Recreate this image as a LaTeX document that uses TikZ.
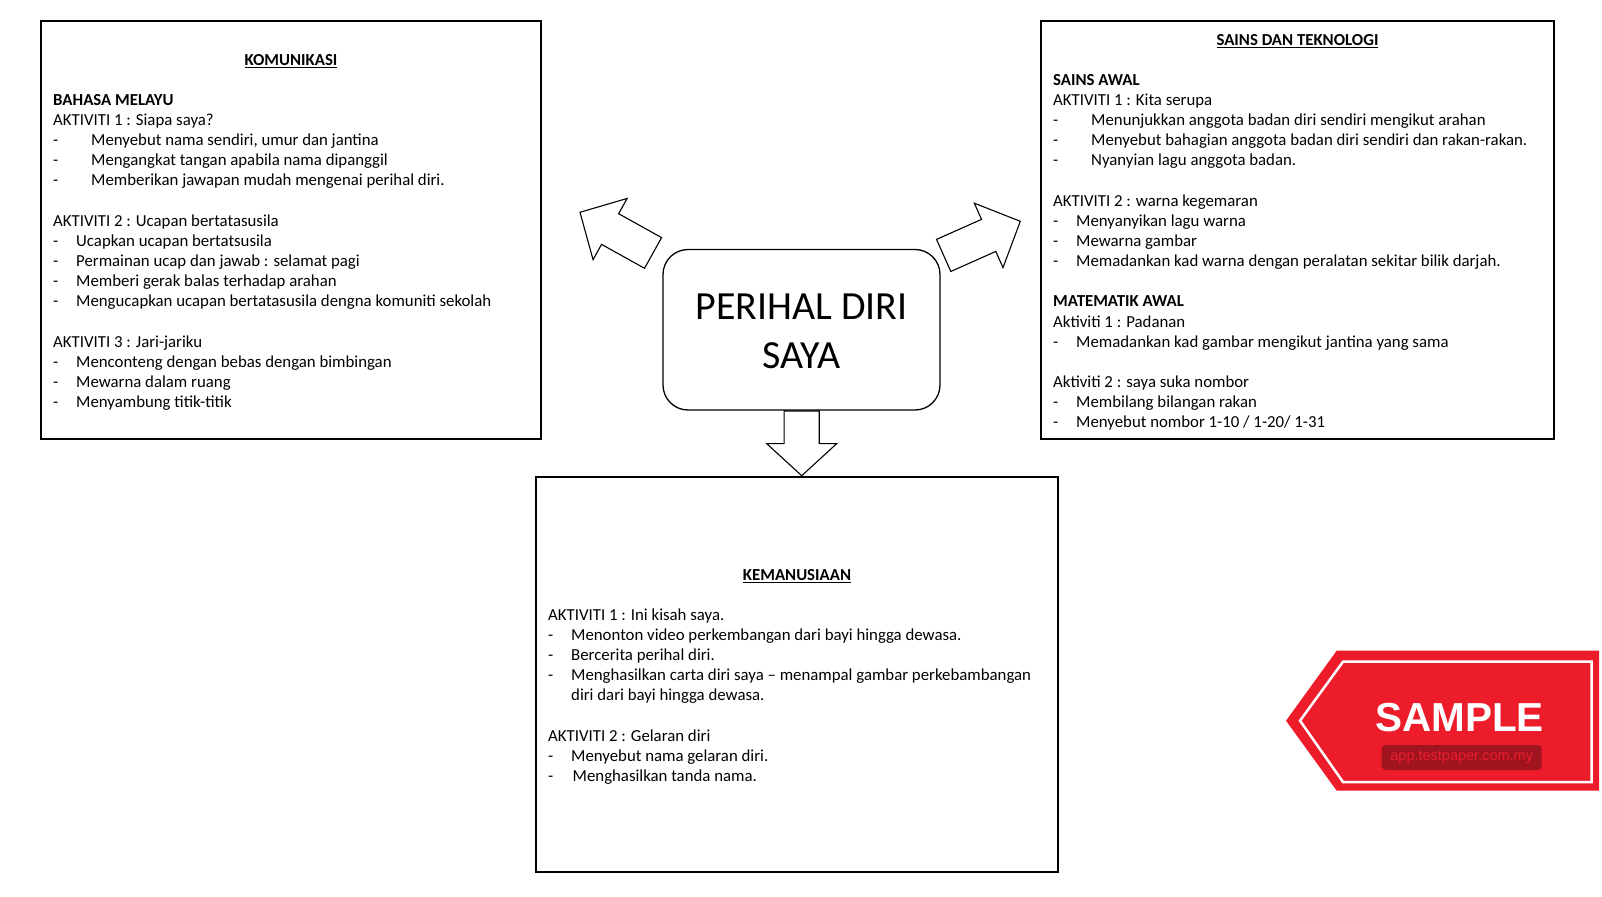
\documentclass[tikz,border=0pt]{standalone}
\usepackage{fontspec}
\setmainfont{Carlito}
\newfontfamily\stampfont{Liberation Sans}
\usetikzlibrary{positioning,shapes.arrows}
\definecolor{stampred}{HTML}{EC1C2B}
\definecolor{stampdark}{HTML}{A01420}
\newcommand{\itm}[1]{\makebox[23pt][l]{-}#1}
\newcommand{\itmw}[1]{\makebox[38pt][l]{-}#1}
\tikzset{
  panel/.style={draw, line width=2pt, rectangle, inner sep=0pt, outer sep=0pt},
  paneltitle/.style={inner sep=0pt, font=\fontsize{16.8}{20.15}\selectfont\bfseries},
  paneltext/.style={inner sep=0pt, anchor=north west, align=left, font=\fontsize{16.8}{20.15}\selectfont},
  blockarrow/.style={draw, line width=1.1pt, single arrow, inner sep=17pt, outer sep=0pt, fill=white, anchor=tip}
}
\begin{document}
\begin{tikzpicture}[x=1pt,y=-1pt]
  \useasboundingbox (0,0) rectangle (1602,896);

  \node[panel, minimum width=500pt, minimum height=417.5pt] (komunikasi) at (291,230.25) {};
  \node[panel, minimum width=513pt, minimum height=417.5pt] (sains) at (1297.5,230.25) {};
  \node[panel, minimum width=522pt, minimum height=395pt] (kemanusiaan) at (797,674) {};

  \node[paneltitle, below=33pt of komunikasi.north] (t1) {\underline{KOMUNIKASI}};
  \node[paneltext] (b1) at (53,94) {\textbf{BAHASA MELAYU}\\
    AKTIVITI 1 : Siapa saya?\\
    \itmw{Menyebut nama sendiri, umur dan jantina}\\
    \itmw{Mengangkat tangan apabila nama dipanggil}\\
    \itmw{Memberikan jawapan mudah mengenai perihal diri.}\\[20.15pt]
    AKTIVITI 2 : Ucapan bertatasusila\\
    \itm{Ucapkan ucapan bertatsusila}\\
    \itm{Permainan ucap dan jawab : selamat pagi}\\
    \itm{Memberi gerak balas terhadap arahan}\\
    \itm{Mengucapkan ucapan bertatasusila dengna komuniti sekolah}\\[20.15pt]
    AKTIVITI 3 : Jari-jariku\\
    \itm{Menconteng dengan bebas dengan bimbingan}\\
    \itm{Mewarna dalam ruang}\\
    \itm{Menyambung titik-titik}};

  \node[paneltitle, below=12.5pt of sains.north] (t2) {\underline{SAINS DAN TEKNOLOGI}};
  \node[paneltext] (b2) at (1053,74) {\textbf{SAINS AWAL}\\
    AKTIVITI 1 : Kita serupa\\
    \itmw{Menunjukkan anggota badan diri sendiri mengikut arahan}\\
    \itmw{Menyebut bahagian anggota badan diri sendiri dan rakan-rakan.}\\
    \itmw{Nyanyian lagu anggota badan.}\\[20.15pt]
    AKTIVITI 2 : warna kegemaran\\
    \itm{Menyanyikan lagu warna}\\
    \itm{Mewarna gambar}\\
    \itm{Memadankan kad warna dengan peralatan sekitar bilik darjah.}\\[20.15pt]
    \textbf{MATEMATIK AWAL}\\
    Aktiviti 1 : Padanan\\
    \itm{Memadankan kad gambar mengikut jantina yang sama}\\[20.15pt]
    Aktiviti 2 : saya suka nombor\\
    \itm{Membilang bilangan rakan}\\
    \itm{Menyebut nombor 1-10 / 1-20/ 1-31}};

  \node[paneltitle, below=92.5pt of kemanusiaan.north] (t3) {\underline{KEMANUSIAAN}};
  \node[paneltext] (b3) at (548,608.5) {AKTIVITI 1 : Ini kisah saya.\\
    \itm{Menonton video perkembangan dari bayi hingga dewasa.}\\
    \itm{Bercerita perihal diri.}\\
    \itm{Menghasilkan carta diri saya -- menampal gambar perkebambangan}\\
    \hspace*{23pt}diri dari bayi hingga dewasa.\\[20.15pt]
    AKTIVITI 2 : Gelaran diri\\
    \itm{Menyebut nama gelaran diri.}\\
    \itm{\hspace*{1.5pt}Menghasilkan tanda nama.}};

  \node[blockarrow, rotate=150.9, minimum height=83.6pt,
    single arrow head extend=17.5pt, single arrow tip angle=91] (arrowleft) at (580,212.3) {};
  \node[blockarrow, rotate=24, minimum height=83.9pt,
    single arrow head extend=17.7pt, single arrow tip angle=91] (arrowright) at (1020.3,221.3) {};
  \node[blockarrow, rotate=-90, minimum height=64.7pt,
    single arrow head extend=17.5pt, single arrow tip angle=95] (arrowdown) at (801.7,475.7) {};
  \node[draw, line width=1.3pt, rectangle, rounded corners=25pt, minimum width=277pt, minimum height=160.5pt,
    align=center, font=\fontsize{39.9}{49}\selectfont] (perihal) at (801.5,329.75) {\rule{0pt}{29.7pt}PERIHAL DIRI\\SAYA};

  % stamp
  \fill[stampred] (1286,720.7) -- (1336.7,650.7) -- (1599,650.7) -- (1599,790.7) -- (1336.7,790.7) -- cycle;
  \draw[white, line width=2.5pt] (1300,720.7) -- (1343,661.7) -- (1591.5,661.7) -- (1591.5,782) -- (1343,782) -- cycle;
  \node[text=white, inner sep=0pt, font=\fontsize{40.5}{42}\selectfont\stampfont\bfseries] (sample) at (1459.5,718) {SAMPLE};
  \node[fill=stampdark, rounded corners=4pt, minimum width=160pt, minimum height=25pt, inner sep=0pt,
    text=stampred, font=\fontsize{14.5}{16}\selectfont\stampfont] (stampurl) at (1461.7,757.5) {app.testpaper.com.my};
\end{tikzpicture}
\end{document}
